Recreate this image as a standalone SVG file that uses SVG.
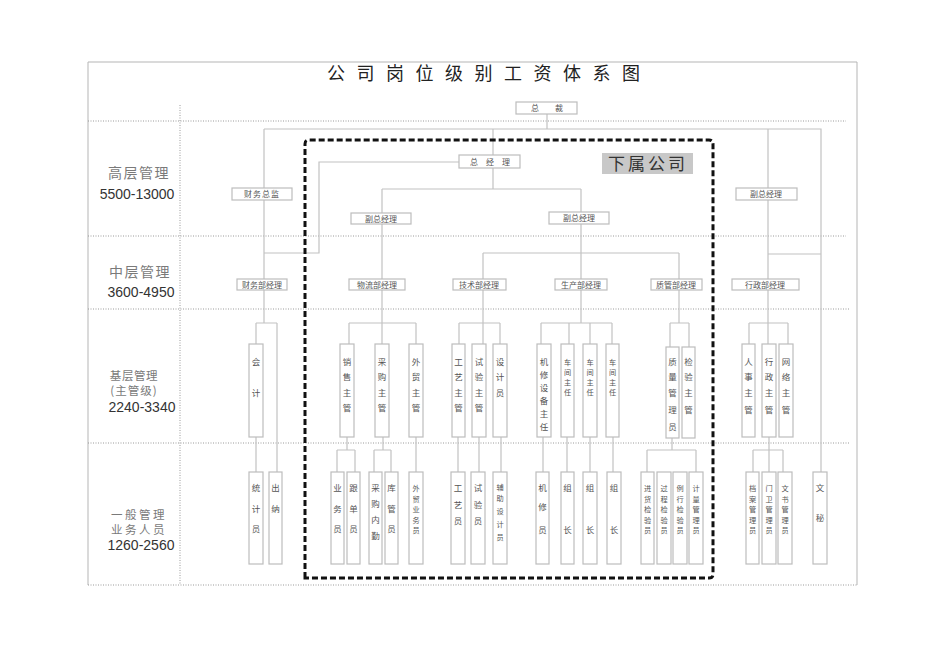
<svg xmlns="http://www.w3.org/2000/svg" width="950" height="672" viewBox="0 0 950 672">
<style>
.bg{fill:#fff}
.frame{stroke:#b5b5b5;stroke-width:1;fill:none}
.grid{stroke:#9a9a9a;stroke-width:1;stroke-dasharray:1 1.5;fill:none}
.ln{stroke:#c2c2c2;stroke-width:1.2;fill:none}
.box{fill:#fff;stroke:#bdbdbd;stroke-width:1.2}
.t{font-family:"Noto Sans CJK SC","Noto Sans",sans-serif;font-size:8px;fill:#555;text-anchor:middle}
.v{font-family:"Noto Sans CJK SC","Noto Sans",sans-serif;font-size:8.5px;fill:#555;text-anchor:middle}
.d{font-size:7.2px}
.lab{font-family:"Noto Sans CJK SC",sans-serif;fill:#7a7a7a;text-anchor:middle}
.num{font-family:"Liberation Sans",Arial,sans-serif;font-size:14px;fill:#333;text-anchor:middle}
.title{font-family:"Noto Sans CJK SC",sans-serif;font-size:18px;fill:#222;letter-spacing:11.5px}
</style>
<rect class="bg" x="0" y="0" width="950" height="672"/>
<g id="frame">
<path class="frame" d="M88,585 V62 H857 V585"/>
<line class="grid" x1="88" y1="121" x2="846" y2="121"/>
<line class="grid" x1="88" y1="236" x2="846" y2="236"/>
<line class="grid" x1="88" y1="309" x2="849" y2="309"/>
<line class="grid" x1="88" y1="443" x2="849" y2="443"/>
<line class="grid" x1="88" y1="585" x2="857" y2="585"/>
<line class="grid" x1="180" y1="105" x2="180" y2="585"/>
<text class="title" x="327" y="80">公司岗位级别工资体系图</text>
</g>
<g id="levels">
<text class="lab" x="139" y="178" font-size="14" letter-spacing="1.5">高层管理</text>
<text class="num" x="137" y="199">5500-13000</text>
<text class="lab" x="140" y="277" font-size="14" letter-spacing="1.5">中层管理</text>
<text class="num" x="141" y="297">3600-4950</text>
<text class="lab" x="134" y="380" font-size="11.5" letter-spacing="0.6">基层管理</text>
<text class="lab" x="134" y="395" font-size="11.5" letter-spacing="1">(主管级)</text>
<text class="num" x="142" y="412">2240-3340</text>
<text class="lab" x="139" y="518.5" font-size="11.5" letter-spacing="2.5">一般管理</text>
<text class="lab" x="139" y="534" font-size="11.5" letter-spacing="2.5">业务人员</text>
<text class="num" x="141" y="550">1260-2560</text>
</g>
<g id="connectors">
<path class="ln" d="M547,114 V129 M264,129 H821 V472 M264,129 V188 M264,200 V279 M493,129 V155 M493,168 V189 M382,189 H581 M382,189 V213 M581,189 V212 M459,162 H319 V253 H264 M382,224 V279 M581,224 V279 M483,253 H679 M483,253 V279 M679,253 V279 M768,129 V188 M768,200 V279 M768,254 H821"/>
<path class="ln" d="M264,290 V323 M256,323 H277 M256,323 V344 M277,323 V472 M382,290 V323 M349,323 H416 M349,323 V344 M382,323 V344 M416,323 V344 M483,290 V344 M459,323 H500 M459,323 V344 M500,323 V344 M581,290 V323 M541,323 H612 M541,323 V344 M569,323 V344 M590,323 V344 M612,323 V344 M679,290 V323 M670,323 H689 M670,323 V347 M689,323 V347 M768,290 V344 M749,323 H788 M749,323 V344 M788,323 V344"/>
<path class="ln" d="M256,437 V472 M347,437 V450 M337,450 H355 M337,450 V472 M355,450 V472 M383,437 V450 M374,450 H391 M374,450 V472 M391,450 V472 M416,437 V472 M458,437 V472 M479,437 V472 M501,437 V472 M543,437 V472 M567,437 V472 M590,437 V472 M613,437 V472 M672,438 V450 M647,450 H696 M647,450 V472 M696,450 V472 M769,437 V472 M753,450 H783 M753,450 V472 M783,450 V472"/>
<path d="M305,578 V144 Q305,140 309,140 H709 Q713,140 713,144 V574 Q713,578 709,578 Z" fill="none" stroke="#111" stroke-width="3" stroke-dasharray="6 3"/>
</g>
<g id="n-zongcai"><rect class="box" x="516" y="102" width="61" height="12"/><text class="t" x="547" y="111">总　　裁</text></g>
<g id="n-zongjingli"><rect class="box" x="459" y="155" width="61" height="13"/><text class="t" x="490" y="164.5">总　经　理</text></g>
<g id="n-xiashu"><rect x="602" y="153" width="91" height="21" fill="#c8c8c8"/><text x="648" y="170" font-family="'Noto Sans CJK SC',sans-serif" font-size="17" fill="#333" text-anchor="middle" letter-spacing="3">下属公司</text></g>
<g id="n-caiwuzongjian"><rect class="box" x="232" y="188" width="60" height="12"/><text class="t" x="262" y="197" letter-spacing="1">财务总监</text></g>
<g id="n-fuzong1"><rect class="box" x="351" y="213" width="60" height="11"/><text class="t" x="381" y="221.5">副总经理</text></g>
<g id="n-fuzong2"><rect class="box" x="549" y="212" width="60" height="12"/><text class="t" x="579" y="221">副总经理</text></g>
<g id="n-fuzong3"><rect class="box" x="736" y="188" width="61" height="12"/><text class="t" x="766" y="197">副总经理</text></g>
<g id="n-caiwubu"><rect class="box" x="237" y="279" width="50" height="11"/><text class="t" x="262" y="287.5">财务部经理</text></g>
<g id="n-wuliubu"><rect class="box" x="349" y="279" width="56" height="11"/><text class="t" x="377" y="287.5">物流部经理</text></g>
<g id="n-jishubu"><rect class="box" x="453" y="279" width="53" height="11"/><text class="t" x="479" y="287.5">技术部经理</text></g>
<g id="n-shengchanbu"><rect class="box" x="555" y="279" width="52" height="11"/><text class="t" x="581" y="287.5">生产部经理</text></g>
<g id="n-zhiguanbu"><rect class="box" x="651" y="279" width="51" height="11"/><text class="t" x="676" y="287.5">质管部经理</text></g>
<g id="n-xingzhengbu"><rect class="box" x="732" y="279" width="67" height="11"/><text class="t" x="765" y="287.5">行政部经理</text></g>

<g id="n-kuaiji"><rect class="box" x="249" y="344" width="14" height="93"/><text class="v"><tspan x="256" y="365">会</tspan><tspan x="256" y="396">计</tspan></text></g>
<g id="n-xiaoshou"><rect class="box" x="340" y="344" width="14" height="93"/><text class="v"><tspan x="347" y="365">销</tspan><tspan x="347" y="380">售</tspan><tspan x="347" y="396">主</tspan><tspan x="347" y="411">管</tspan></text></g>
<g id="n-caigou"><rect class="box" x="375" y="344" width="14" height="93"/><text class="v"><tspan x="382" y="365">采</tspan><tspan x="382" y="380">购</tspan><tspan x="382" y="396">主</tspan><tspan x="382" y="411">管</tspan></text></g>
<g id="n-waimao"><rect class="box" x="409" y="344" width="14" height="93"/><text class="v"><tspan x="416" y="365">外</tspan><tspan x="416" y="380">贸</tspan><tspan x="416" y="396">主</tspan><tspan x="416" y="411">管</tspan></text></g>
<g id="n-gongyi"><rect class="box" x="452" y="344" width="13" height="93"/><text class="v"><tspan x="458.5" y="365">工</tspan><tspan x="458.5" y="380">艺</tspan><tspan x="458.5" y="396">主</tspan><tspan x="458.5" y="411">管</tspan></text></g>
<g id="n-shiyan"><rect class="box" x="472" y="344" width="14" height="93"/><text class="v"><tspan x="479" y="365">试</tspan><tspan x="479" y="380">验</tspan><tspan x="479" y="396">主</tspan><tspan x="479" y="411">管</tspan></text></g>
<g id="n-sheji"><rect class="box" x="493" y="344" width="14" height="93"/><text class="v"><tspan x="500" y="365">设</tspan><tspan x="500" y="380">计</tspan><tspan x="500" y="396">员</tspan></text></g>
<g id="n-jixiu"><rect class="box" x="537" y="344" width="14" height="93"/><text class="v" font-size="8"><tspan x="544" y="365">机</tspan><tspan x="544" y="378">修</tspan><tspan x="544" y="391">设</tspan><tspan x="544" y="404">备</tspan><tspan x="544" y="417">主</tspan><tspan x="544" y="430">任</tspan></text></g>
<g id="n-chejian1"><rect class="box" x="561" y="344" width="13" height="93"/><text class="v d"><tspan x="567.5" y="365">车</tspan><tspan x="567.5" y="375">间</tspan><tspan x="567.5" y="385">主</tspan><tspan x="567.5" y="395">任</tspan></text></g>
<g id="n-chejian2"><rect class="box" x="583" y="344" width="14" height="93"/><text class="v d"><tspan x="590" y="365">车</tspan><tspan x="590" y="375">间</tspan><tspan x="590" y="385">主</tspan><tspan x="590" y="395">任</tspan></text></g>
<g id="n-chejian3"><rect class="box" x="606" y="344" width="13" height="93"/><text class="v d"><tspan x="612.5" y="365">车</tspan><tspan x="612.5" y="375">间</tspan><tspan x="612.5" y="385">主</tspan><tspan x="612.5" y="395">任</tspan></text></g>
<g id="n-zhiliang"><rect class="box" x="666" y="347" width="13" height="91"/><text class="v"><tspan x="672.5" y="365">质</tspan><tspan x="672.5" y="380">量</tspan><tspan x="672.5" y="396">管</tspan><tspan x="672.5" y="413">理</tspan><tspan x="672.5" y="430">员</tspan></text></g>
<g id="n-jianyan"><rect class="box" x="682" y="347" width="13" height="91"/><text class="v"><tspan x="688.5" y="365">检</tspan><tspan x="688.5" y="380">验</tspan><tspan x="688.5" y="396">主</tspan><tspan x="688.5" y="413">管</tspan></text></g>
<g id="n-renshi"><rect class="box" x="742" y="344" width="13" height="93"/><text class="v"><tspan x="748.5" y="365">人</tspan><tspan x="748.5" y="380">事</tspan><tspan x="748.5" y="396">主</tspan><tspan x="748.5" y="413">管</tspan></text></g>
<g id="n-xingzheng"><rect class="box" x="762" y="344" width="14" height="93"/><text class="v"><tspan x="769" y="365">行</tspan><tspan x="769" y="380">政</tspan><tspan x="769" y="396">主</tspan><tspan x="769" y="413">管</tspan></text></g>
<g id="n-wangluo"><rect class="box" x="779" y="344" width="14" height="93"/><text class="v"><tspan x="786" y="365">网</tspan><tspan x="786" y="380">络</tspan><tspan x="786" y="396">主</tspan><tspan x="786" y="413">管</tspan></text></g>

<g id="n-tongji"><rect class="box" x="249" y="472" width="14" height="92"/><text class="v"><tspan x="256" y="491">统</tspan><tspan x="256" y="512">计</tspan><tspan x="256" y="532">员</tspan></text></g>
<g id="n-chuna"><rect class="box" x="269" y="472" width="13" height="92"/><text class="v"><tspan x="275.5" y="491">出</tspan><tspan x="275.5" y="512">纳</tspan></text></g>
<g id="n-yewu"><rect class="box" x="331" y="472" width="13" height="92"/><text class="v"><tspan x="337.5" y="491">业</tspan><tspan x="337.5" y="512">务</tspan><tspan x="337.5" y="532">员</tspan></text></g>
<g id="n-gendan"><rect class="box" x="347" y="472" width="13" height="92"/><text class="v"><tspan x="353.5" y="491">跟</tspan><tspan x="353.5" y="512">单</tspan><tspan x="353.5" y="532">员</tspan></text></g>
<g id="n-caigouneiqin"><rect class="box" x="369" y="472" width="13" height="92"/><text class="v"><tspan x="375.5" y="491">采</tspan><tspan x="375.5" y="507">购</tspan><tspan x="375.5" y="523">内</tspan><tspan x="375.5" y="539">勤</tspan></text></g>
<g id="n-kuguan"><rect class="box" x="385" y="472" width="13" height="92"/><text class="v"><tspan x="391.5" y="491">库</tspan><tspan x="391.5" y="512">管</tspan><tspan x="391.5" y="532">员</tspan></text></g>
<g id="n-waimaoyewu"><rect class="box" x="409" y="472" width="14" height="92"/><text class="v d"><tspan x="416" y="491">外</tspan><tspan x="416" y="501.5">贸</tspan><tspan x="416" y="512">业</tspan><tspan x="416" y="522.5">务</tspan><tspan x="416" y="533">员</tspan></text></g>
<g id="n-gongyiyuan"><rect class="box" x="451" y="472" width="14" height="92"/><text class="v"><tspan x="458" y="491">工</tspan><tspan x="458" y="508">艺</tspan><tspan x="458" y="524">员</tspan></text></g>
<g id="n-shiyanyuan"><rect class="box" x="471" y="472" width="14" height="92"/><text class="v"><tspan x="478" y="491">试</tspan><tspan x="478" y="508">验</tspan><tspan x="478" y="524">员</tspan></text></g>
<g id="n-fuzhusheji"><rect class="box" x="493" y="472" width="14" height="92"/><text class="v d"><tspan x="500" y="490">辅</tspan><tspan x="500" y="501">助</tspan><tspan x="500" y="514">设</tspan><tspan x="500" y="527">计</tspan><tspan x="500" y="540">员</tspan></text></g>
<g id="n-jixiuyuan"><rect class="box" x="536" y="472" width="13" height="92"/><text class="v"><tspan x="542.5" y="491">机</tspan><tspan x="542.5" y="510">修</tspan><tspan x="542.5" y="533">员</tspan></text></g>
<g id="n-zuzhang1"><rect class="box" x="561" y="472" width="13" height="92"/><text class="v"><tspan x="567.5" y="491">组</tspan><tspan x="567.5" y="533">长</tspan></text></g>
<g id="n-zuzhang2"><rect class="box" x="583" y="472" width="14" height="92"/><text class="v"><tspan x="590" y="491">组</tspan><tspan x="590" y="533">长</tspan></text></g>
<g id="n-zuzhang3"><rect class="box" x="607" y="472" width="14" height="92"/><text class="v"><tspan x="614" y="491">组</tspan><tspan x="614" y="533">长</tspan></text></g>
<g id="n-jinhuo"><rect class="box" x="641" y="472" width="13" height="92"/><text class="v d"><tspan x="647.5" y="491">进</tspan><tspan x="647.5" y="501.5">货</tspan><tspan x="647.5" y="512">检</tspan><tspan x="647.5" y="522.5">验</tspan><tspan x="647.5" y="533">员</tspan></text></g>
<g id="n-guocheng"><rect class="box" x="657" y="472" width="14" height="92"/><text class="v d"><tspan x="664" y="491">过</tspan><tspan x="664" y="501.5">程</tspan><tspan x="664" y="512">检</tspan><tspan x="664" y="522.5">验</tspan><tspan x="664" y="533">员</tspan></text></g>
<g id="n-lixing"><rect class="box" x="673" y="472" width="14" height="92"/><text class="v d"><tspan x="680" y="491">例</tspan><tspan x="680" y="501.5">行</tspan><tspan x="680" y="512">检</tspan><tspan x="680" y="522.5">验</tspan><tspan x="680" y="533">员</tspan></text></g>
<g id="n-jiliang"><rect class="box" x="689" y="472" width="14" height="92"/><text class="v d"><tspan x="696" y="491">计</tspan><tspan x="696" y="501.5">量</tspan><tspan x="696" y="512">管</tspan><tspan x="696" y="522.5">理</tspan><tspan x="696" y="533">员</tspan></text></g>
<g id="n-dangan"><rect class="box" x="746" y="472" width="13" height="92"/><text class="v d"><tspan x="752.5" y="491">档</tspan><tspan x="752.5" y="501.5">案</tspan><tspan x="752.5" y="512">管</tspan><tspan x="752.5" y="522.5">理</tspan><tspan x="752.5" y="533">员</tspan></text></g>
<g id="n-menwei"><rect class="box" x="762" y="472" width="14" height="92"/><text class="v d"><tspan x="769" y="491">门</tspan><tspan x="769" y="501.5">卫</tspan><tspan x="769" y="512">管</tspan><tspan x="769" y="522.5">理</tspan><tspan x="769" y="533">员</tspan></text></g>
<g id="n-wenshu"><rect class="box" x="778" y="472" width="14" height="92"/><text class="v d"><tspan x="785" y="491">文</tspan><tspan x="785" y="501.5">书</tspan><tspan x="785" y="512">管</tspan><tspan x="785" y="522.5">理</tspan><tspan x="785" y="533">员</tspan></text></g>
<g id="n-wenmi"><rect class="box" x="813" y="472" width="14" height="92"/><text class="v"><tspan x="820" y="491">文</tspan><tspan x="820" y="521">秘</tspan></text></g>
</svg>
